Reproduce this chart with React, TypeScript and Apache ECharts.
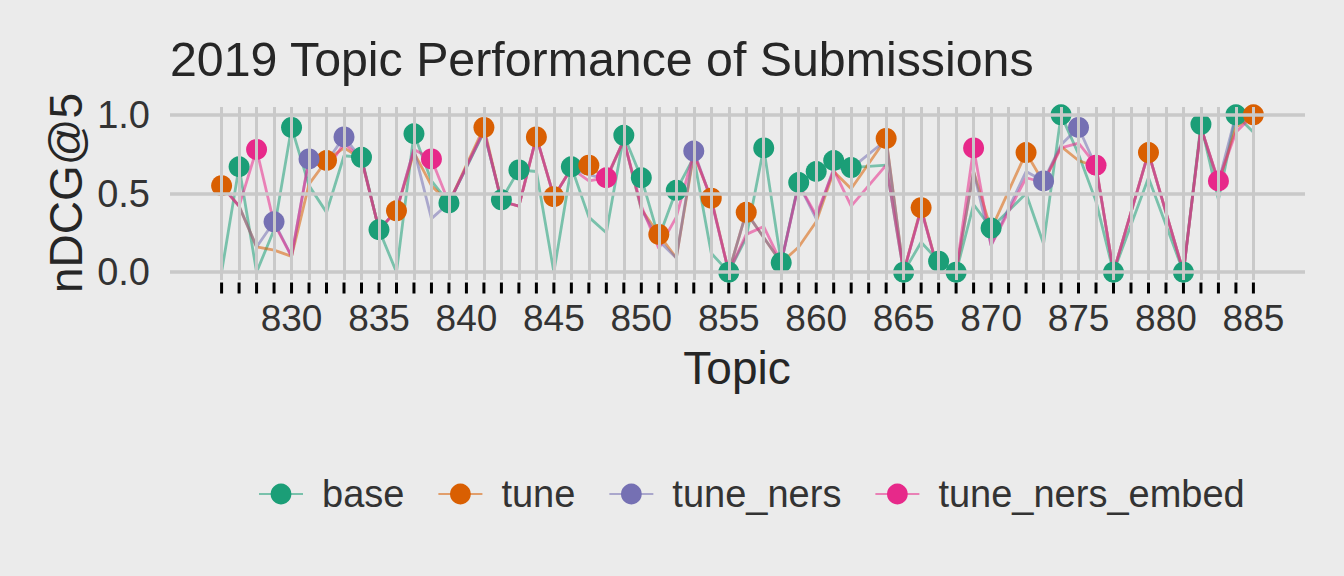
import React, { useEffect, useRef } from "react";
import * as echarts from "echarts";

const topics = [
  826, 827, 828, 829, 830, 831, 832, 833, 834, 835,
  836, 837, 838, 839, 840, 841, 842, 843, 844, 845,
  846, 847, 848, 849, 850, 851, 852, 853, 854, 855,
  856, 857, 858, 859, 860, 861, 862, 863, 864, 865,
  866, 867, 868, 869, 870, 871, 872, 873, 874, 875,
  876, 877, 878, 879, 880, 881, 882, 883, 884, 885,
];

const base = [
  0, 0.67, 0, 0.27, 0.92, 0.55, 0.38, 0.74, 0.73, 0.27,
  0, 0.88, 0.58, 0.44, null, 0.89, 0.46, 0.65, 0.64, 0,
  0.67, 0.35, 0.25, 0.87, 0.6, 0.22, 0.52, 0.73, 0.12, 0,
  0.22, 0.79, 0.06, 0.57, 0.64, 0.71, 0.665, null, 0.68, 0,
  0.19, 0.07, 0, 0.43, 0.28, null, 0.5, 0.18, 1.0, 0.75,
  0.45, 0, null, 0.6, null, 0, 0.94, 0.46, 1.0, 0.89,
];

const tune = [
  0.55, 0.42, 0.16, 0.14, 0.1, 0.56, 0.71, 0.79, 0.72, 0.27,
  0.39, 0.76, 0.55, 0.44, null, 0.92, 0.45, 0.42, 0.86, 0.48,
  0.66, 0.68, 0.59, 0.84, 0.4, 0.24, 0.09, 0.75, 0.47, 0,
  0.38, 0.22, 0.06, 0.16, 0.32, 0.64, 0.53, null, 0.85, 0,
  0.41, 0, 0, 0.64, 0.27, null, 0.76, 0.57, 0.8, 0.71,
  0.67, 0, null, 0.76, null, 0, 0.92, 0.57, 0.92, 1.0,
];

const tuneNers = [
  0.55, 0.42, 0.16, 0.32, 0.1, 0.72, 0.7, 0.86, 0.72, 0.27,
  0.39, 0.78, 0.34, 0.44, null, 0.9, 0.45, 0.42, 0.86, 0.48,
  0.66, 0.62, 0.59, 0.84, 0.4, 0.2, 0.09, 0.77, 0.46, 0,
  0.38, 0.22, 0.06, 0.56, 0.34, 0.66, 0.66, null, 0.84, 0,
  0.4, 0, 0, 0.64, 0.17, null, 0.64, 0.58, 0.81, 0.92,
  0.67, 0, null, 0.76, null, 0, 0.92, 0.57, 1.0, 0.95,
];

const tuneNersEmbed = [
  0.55, 0.42, 0.78, 0.31, 0.1, 0.72, 0.65, 0.82, 0.72, 0.27,
  0.39, 0.78, 0.72, 0.44, null, 0.9, 0.45, 0.42, 0.86, 0.48,
  0.66, 0.58, 0.6, 0.84, 0.42, 0.15, 0.35, 0.76, 0.46, 0,
  0.24, 0.29, 0.06, 0.56, 0.36, 0.65, 0.42, null, 0.68, 0,
  0.4, 0, 0, 0.79, 0.17, null, 0.6, 0.57, 0.79, 0.82,
  0.68, 0, null, 0.76, null, 0, 0.92, 0.58, 0.89, 1.0,
];

const seriesNames = ["base", "tune", "tune_ners", "tune_ners_embed"];
const seriesValues = [base, tune, tuneNers, tuneNersEmbed];
const colors = ["#1B9E77", "#D95F02", "#7570B3", "#E7298A"];
const xLabelValues = [830, 835, 840, 845, 850, 855, 860, 865, 870, 875, 880, 885];
const yTickValues = [0, 0.5, 1];
const Y_MIN = -0.05;
const Y_MAX = 1.05;

const FONT = "Liberation Sans, Arial, Helvetica, sans-serif";

export default function App() {
  const ref = useRef<HTMLDivElement>(null);

  useEffect(() => {
    if (!ref.current) return;
    const chart = echarts.init(ref.current, null, { renderer: "svg" });

    // best model per topic (first on ties)
    const bestIdx = topics.map((_, i) => {
      let bi = -1;
      let bv = -Infinity;
      seriesValues.forEach((vals, k) => {
        const v = vals[i];
        if (v !== null && v !== undefined && (v as number) > bv) {
          bv = v as number;
          bi = k;
        }
      });
      return bi;
    });

    const lineSeries = seriesNames.map((name, k) => ({
      name,
      type: "line",
      z: 2,
      data: topics
        .map((t, i) => [t, seriesValues[k][i]])
        .filter((p) => p[1] !== null),
      symbol: "circle",
      symbolSize: 21,
      showSymbol: false,
      itemStyle: { color: colors[k] },
      lineStyle: { color: colors[k], width: 2.8, opacity: 0.55 },
      emphasis: { disabled: true },
      silent: true,
    }));

    const pointSeries = seriesNames.map((name, k) => ({
      name,
      type: "scatter",
      z: 3,
      data: topics
        .map((t, i) => [t, seriesValues[k][i], bestIdx[i]])
        .filter((p) => p[2] === k)
        .map((p) => [p[0], p[1]]),
      symbol: "circle",
      symbolSize: 21,
      itemStyle: { color: colors[k], opacity: 1 },
      emphasis: { disabled: true },
      silent: true,
    }));

    const gridSeries = {
      name: "grid",
      type: "line",
      z: 1,
      data: [],
      silent: true,
      markLine: {
        silent: true,
        symbol: ["none", "none"],
        label: { show: false },
        emphasis: { disabled: true },
        lineStyle: { color: "#C9C9C9", width: 3, type: "solid", opacity: 1 },
        data: [
          ...topics.map((t) => ({ xAxis: t })),
          ...yTickValues.map((v) => ({ yAxis: v, lineStyle: { width: 3.5, color: "#C9C9C9", type: "solid" } })),
        ],
      },
    };

    // x-axis tick marks, one per topic, hung just below the panel
    const tickSeries = {
      name: "ticks",
      type: "scatter",
      z: 1,
      clip: false,
      silent: true,
      symbol: "rect",
      symbolSize: [3, 11],
      symbolOffset: [0, 8],
      itemStyle: { color: "#000000", opacity: 1 },
      emphasis: { disabled: true },
      data: topics.map((t) => [t, Y_MIN]),
    };

    const option = {
      animation: false,
      backgroundColor: "#EBEBEB",
      textStyle: { fontFamily: FONT },
      grid: { left: 170, right: 39, top: 107, bottom: 296, containLabel: false },
      xAxis: {
        type: "value",
        min: 823.05,
        max: 887.95,
        axisLine: { show: false },
        splitLine: { show: false },
        axisTick: { show: false },
        axisLabel: {
          customValues: xLabelValues,
          fontSize: 37,
          color: "#333333",
          fontFamily: FONT,
          margin: 20,
        },
      },
      yAxis: {
        type: "value",
        min: Y_MIN,
        max: Y_MAX,
        axisLine: { show: false },
        axisTick: { show: false },
        splitLine: { show: false },
        axisLabel: {
          customValues: yTickValues,
          formatter: (v: number) => v.toFixed(1),
          fontSize: 38,
          color: "#333333",
          fontFamily: FONT,
          margin: 20,
        },
      },
      legend: {
        data: seriesNames,
        left: 258,
        top: 475,
        padding: 0,
        itemWidth: 44,
        itemHeight: 26,
        itemGap: 33,
        selectedMode: false,
        textStyle: { fontSize: 38, color: "#333333", fontFamily: FONT, padding: [0, 0, 0, 14] },
      },
      graphic: [
        {
          type: "text",
          x: 170,
          y: 59,
          style: {
            text: "2019 Topic Performance of Submissions",
            fontSize: 48.3,
            fontFamily: FONT,
            fill: "#262626",
            align: "left",
            verticalAlign: "middle",
            textAlign: "left",
            textVerticalAlign: "middle",
          },
        },
        {
          type: "text",
          x: 737,
          y: 368,
          style: {
            text: "Topic",
            fontSize: 46,
            fontFamily: FONT,
            fill: "#262626",
            align: "center",
            verticalAlign: "middle",
            textAlign: "center",
            textVerticalAlign: "middle",
          },
        },
        {
          type: "text",
          x: 66,
          y: 193,
          rotation: Math.PI / 2,
          style: {
            text: "nDCG@5",
            fontSize: 46,
            fontFamily: FONT,
            fill: "#262626",
            align: "center",
            verticalAlign: "middle",
            textAlign: "center",
            textVerticalAlign: "middle",
          },
        },
      ],
      series: [gridSeries, tickSeries, ...lineSeries, ...pointSeries],
    };

    chart.setOption(option as any);
    return () => chart.dispose();
  }, []);

  return (
    <div
      ref={ref}
      style={{
        position: "fixed",
        left: 0,
        top: 0,
        width: 1344,
        height: 576,
        background: "#EBEBEB",
      }}
    />
  );
}
